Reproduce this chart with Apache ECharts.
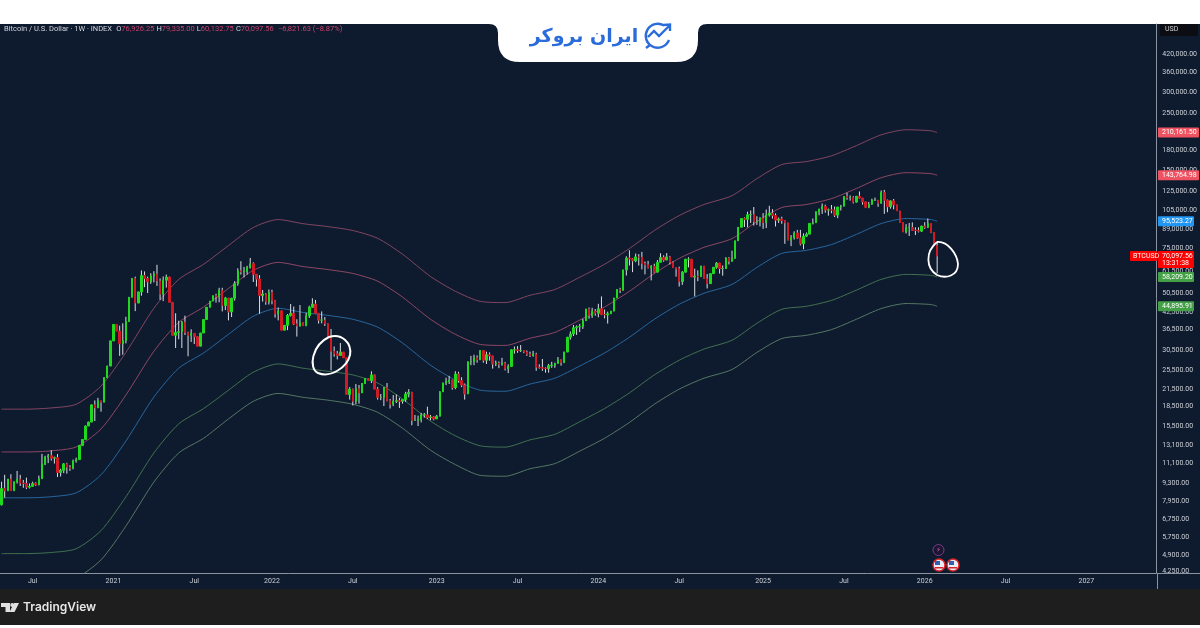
<!DOCTYPE html>
<html>
<head>
<meta charset="utf-8">
<title>Bitcoin / U.S. Dollar</title>
<script src="https://cdn.jsdelivr.net/npm/echarts@6/dist/echarts.min.js"></script>
<style>
  html, body { margin: 0; padding: 0; background: #fff; }
  #chart { width: 1200px; height: 628px; }
</style>
</head>
<body>
<div id="chart"></div>
<script>
// weekly BTC candles, first bar is the week of 2020-04-27
const firstWeek = "2020-04-27";
const weekCount = 372; // includes the empty weeks right of the last bar

const opens = [
  7700,8900,8720,9680,8720,9450,9650,9330,9300,9000,
  9070,9300,9200,9700,11050,11750,11900,11650,11700,10250,
  10450,11070,10750,10650,11350,11500,13030,13750,15500,16050,
  18700,18200,19400,19150,23800,26400,33000,38200,36000,32200,
  33100,39200,48600,57500,46200,51000,59000,57400,55800,58800,
  59800,56200,50000,56600,58200,46500,34700,35600,35800,39000,
  35600,34700,35300,34250,31500,35400,39900,44500,47000,49300,
  48900,51700,45200,48300,42700,48200,54900,61500,60900,61300,
  63300,65500,59700,57200,49400,50100,46700,50800,47300,41900,
  43100,36300,37900,41400,42200,38400,37700,38800,37800,41300,
  44500,45800,42200,39700,39700,38500,34000,30100,29400,29000,
  29900,28400,20500,21500,19300,21600,20800,22600,23600,23200,
  24400,21500,20000,20000,21800,19400,18800,19300,19400,19300,
  19600,20600,20900,16300,16300,16400,17100,17100,16700,16800,
  16500,16900,21000,22700,23000,23300,21800,24600,23200,22300,
  20600,27400,27500,28400,27900,30300,27800,29200,28900,26900,
  27100,26800,27100,25800,26300,30500,30500,30300,30300,29900,
  29300,29000,29300,26100,26000,25900,25800,26500,26600,27000,
  27900,27200,29900,34100,35100,37100,37400,37500,39500,43800,
  41400,43000,42200,43900,41700,41600,42000,43000,48300,52100,
  51700,62000,68900,68400,67200,69600,69400,65700,64900,63100,
  64000,60800,66300,69300,67700,69600,66200,63200,62700,55900,
  60800,68200,68200,58200,58700,58400,64200,57300,54900,60000,
  63500,65900,62800,62800,68900,67000,68700,80300,90600,97900,
  97200,101200,101400,95200,95200,98300,94500,101100,102600,100600,
  96500,97500,96200,94200,80700,82600,86000,82400,78200,83700,
  85200,93700,94300,104000,106500,109000,105700,105700,105500,100900,
  108400,109200,119100,117900,117900,113300,119300,117400,113500,108200,
  111100,115300,115300,112200,123500,115200,108700,114500,110600,104700,
  94500,86800,90400,90400,88200,88100,87500,91500,90500,93600,
  86500,76926.25
];
const highs = [
  9450,10050,9680,10100,9450,10400,10050,9600,9800,9300,
  9450,9400,9980,12100,11900,12100,12500,11800,12080,10600,
  11150,11180,10950,11500,11700,13100,13800,15550,16100,18750,
  19450,19900,19400,23900,26500,33100,38300,38300,37800,38600,
  40900,48800,57700,58400,51100,61700,61200,58400,60200,61300,
  64900,57500,58500,59500,58400,46600,42200,39500,39400,41300,
  35800,36600,35100,34400,35450,40000,44600,47100,49400,50200,
  52900,52900,48800,48300,48400,56100,62900,67000,63700,64300,
  69000,66300,59800,59200,51900,50500,52100,52000,47500,44400,
  43200,38000,41900,45800,44800,40000,45400,38900,42400,45100,
  48200,47500,41600,42900,40800,38600,36700,31400,30200,32400,
  29900,28400,21900,21600,22500,22300,22700,23700,23700,25200,
  24500,21900,20600,21900,22700,19700,20400,20500,19900,19700,
  21000,21500,21000,17100,17000,17400,17400,18400,17100,16900,
  17100,21100,22800,23800,24200,23400,25200,25100,23900,22600,
  27500,28900,29200,29000,30400,30400,30000,29800,28900,27700,
  27500,28400,27400,26800,30600,31400,31500,31800,30400,30300,
  30000,30200,29700,26800,28100,26100,26900,27400,27200,28600,
  28000,30000,34200,35900,38000,37900,38400,40200,43900,44400,
  44300,43800,45900,49000,43600,42800,43100,48400,52200,52900,
  62100,70000,73800,68900,71700,71300,72800,66800,67200,64700,
  65500,67700,71900,70600,72000,70200,66900,63400,63800,61400,
  68400,69400,68300,62700,61800,64300,64300,59800,60100,63600,
  66500,66000,64500,69400,69500,73600,80400,90700,98000,98900,
  104000,105200,108400,99900,99000,102700,106000,109600,106400,102500,
  98800,99500,96500,94300,84500,87400,88500,88500,85800,86500,
  93800,97900,104100,106700,111900,110700,106900,110400,108900,108500,
  110500,119200,123200,120200,119300,119300,124500,117600,113600,113400,
  116700,117900,115400,125600,126200,115900,114900,116400,110700,104800,
  94600,93100,94100,94600,90500,90500,91800,94700,97900,93600,
  86600,79335
];
const lows = [
  7650,8200,8720,8800,8720,9300,9100,8950,8850,8900,
  9050,9100,9150,9750,10950,11150,11400,11100,9850,9900,
  10200,10150,10400,10550,11200,11500,13030,13750,15500,16050,
  16200,18200,17600,19150,23800,26400,33000,36000,28900,29200,
  32300,39200,48600,43000,46200,49300,53200,50500,54800,55500,
  53800,47500,47000,53000,46500,34700,31000,33500,31000,34800,
  28800,32700,32100,31500,31500,35400,39900,44500,47000,46400,
  46500,42900,43400,39600,40800,47200,53900,59500,58000,59500,
  62800,55700,53500,42000,46800,45500,45600,45700,40600,39600,
  36300,36300,36300,41000,38000,34300,37500,37800,37600,40500,
  44400,42000,38500,38600,37700,34000,25400,28700,28000,29300,
  28400,20500,19600,18600,18800,18900,20800,22600,23200,22700,
  21500,19600,19500,18500,19300,18100,18500,19000,18200,18900,
  19200,20000,15600,16200,15500,16000,16700,16500,16300,16300,
  16500,16900,21000,22300,22500,21400,21500,22800,21900,19600,
  20600,26600,26600,27200,27900,27200,26900,27700,25800,26400,
  25900,26500,25400,24800,26300,29500,29700,29900,29600,28900,
  28600,28700,25300,25800,25300,24900,24900,26000,26000,27200,
  26500,27200,29900,33400,34500,34800,35700,36700,39500,40200,
  40500,41300,40700,41500,40300,38500,42000,43000,48300,50500,
  51700,59000,64500,60800,66400,64500,62300,59600,62800,56500,
  60200,60700,66500,66700,68500,65100,63200,58400,53500,54300,
  60600,63400,58200,49000,56100,58400,57300,52600,54900,60000,
  62700,60000,58900,62500,65100,66800,68700,80300,90600,90800,
  90500,94200,92000,92500,91300,89300,89900,99600,97800,91200,
  94100,93400,78200,80700,76600,81200,81600,77100,74500,83100,
  85200,92900,94300,100700,102000,103100,100400,102600,99200,98200,
  105100,109200,115700,114700,111900,112700,116800,110700,107400,107300,
  110600,114400,108600,111600,102000,103500,106900,106200,104700,94500,
  86800,85700,83800,87700,84500,86500,86800,89300,90000,86000,
  76900,60132.75
];
const closes = [
  8900,8720,9680,8720,9450,9650,9330,9300,9000,9070,
  9300,9200,9700,11050,11750,11900,11650,11700,10250,10450,
  11070,10750,10650,11350,11500,13030,13750,15500,16050,18700,
  18200,19400,19150,23800,26400,33000,38200,36000,32200,33100,
  39200,48600,57500,46200,51000,59000,57400,55800,58800,59800,
  56200,50000,56600,58200,46500,34700,35600,35800,39000,35600,
  34700,35300,34250,31500,35400,39900,44500,47000,49300,48900,
  51700,45200,48300,42700,48200,54900,61500,60900,61300,63300,
  65500,59700,57200,49400,50100,46700,50800,47300,41900,43100,
  36300,37900,41400,42200,38400,37700,38800,37800,41300,44500,
  45800,42200,39700,39700,38500,34000,30100,29400,29000,29900,
  28400,20500,21500,19300,21600,20800,22600,23600,23200,24400,
  21500,20000,20000,21800,19400,18800,19300,19400,19300,19600,
  20600,20900,16300,16300,16400,17100,17100,16700,16800,16500,
  16900,21000,22700,23000,23300,21800,24600,23200,22300,20600,
  27400,27500,28400,27900,30300,27800,29200,28900,26900,27100,
  26800,27100,25800,26300,30500,30500,30300,30300,29900,29300,
  29000,29300,26100,26000,25900,25800,26500,26600,27000,27900,
  27200,29900,34100,35100,37100,37400,37500,39500,43800,41400,
  43000,42200,43900,41700,41600,42000,43000,48300,52100,51700,
  62000,68900,68400,67200,69600,69400,65700,64900,63100,64000,
  60800,66300,69300,67700,69600,66200,63200,62700,55900,60800,
  68200,68200,58200,58700,58400,64200,57300,54900,60000,63500,
  65900,62800,62800,68900,67000,68700,80300,90600,97900,97200,
  101200,101400,95200,95200,98300,94500,101100,102600,100600,96500,
  97500,96200,94200,80700,82600,86000,82400,78200,83700,85200,
  93700,94300,104000,106500,109000,105700,105700,105500,100900,108400,
  109200,119100,117900,117900,113300,119300,117400,113500,108200,111100,
  115300,115300,112200,123500,115200,108700,114500,110600,104700,94500,
  86800,90400,90400,88200,88100,87500,91500,90500,93600,86500,
  76900,70097.56
];

// band values read every couple of months, bandWeeks = bar number
const bandWeeks = [0,8,16,24,32,40,49,57,65,73,81,89,97,105,113,121,129,138,146,154,162,170,178,186,194,202,210,218,226,235,243,251,259,267,275,283,291,299,301];
const upperOuter = [18000,18000,18200,18800,22100,29800,44100,57000,65200,77000,90400,97000,93500,91100,88000,82100,71300,58500,51300,46900,46400,49500,52100,58100,65200,75000,88000,100500,110900,119900,139500,158000,162400,170900,187000,205900,215400,213400,210161.5];
const upperInner = [12310,12310,12430,12870,15100,20400,30100,38900,44600,52600,61800,66300,63900,62200,60100,56100,48700,40000,35000,32000,31700,33800,35600,39700,44600,51300,60100,68700,75800,81900,95300,107900,110900,116800,127800,140700,147100,145800,143764.98];
const basis = [8190,8190,8270,8560,10050,13560,20050,25900,29650,35000,41100,44100,42500,41400,40000,37300,32400,26600,23300,21300,21100,22500,23700,26400,29650,34100,40000,45700,50400,54500,63400,71800,73800,77700,85000,93600,97900,97000,95523.27];
const lowerInner = [4990,4990,5040,5210,6120,8260,12200,15800,18100,21300,25000,26900,25900,25200,24400,22700,19700,16200,14200,13000,12850,13700,14400,16100,18100,20800,24400,27800,30700,33200,38600,43700,44900,47300,51800,57000,59600,59100,58209.2];
const lowerOuter = [3850,3850,3890,4020,4720,6370,9420,12200,13900,16500,19300,20700,20000,19500,18800,17500,15200,12500,11000,10000,9920,10600,11100,12400,13900,16000,18800,21500,23700,25600,29800,33700,34700,36500,40000,44000,46000,45600,44895.91];

const priceTicks = [420000,360000,300000,250000,210000,180000,150000,125000,105000,89000,75000,61500,50500,42500,36500,30500,25500,21500,18500,15500,13100,11100,9300,7950,6750,5750,4900,4250];
const timeTickDates = ["2020-07-06","2021-01-04","2021-07-05","2021-12-27","2022-06-27","2023-01-02","2023-07-03","2024-01-01","2024-07-01","2025-01-06","2025-07-07","2026-01-05","2026-07-06","2027-01-04"];
const timeTickLabels = ["Jul","2021","Jul","2022","Jul","2023","Jul","2024","Jul","2025","Jul","2026","Jul","2027"];

// price tags on the right axis
const tagValues = [210161.5,143764.98,95523.27,70097.56,58209.2,44895.91];
const tagTexts = ["210,161.50","143,764.98","95,523.27","70,097.56","58,209.20","44,895.91"];
const countdown = "13:31:38";

const categories = [];
for (let i = 0; i < weekCount; i++) {
  const d = new Date(firstWeek + "T00:00:00Z");
  d.setUTCDate(d.getUTCDate() + i * 7);
  categories.push(d.toISOString().slice(0, 10));
}

const fontName = "Roboto, sans-serif";
const axisGrey = "#8b93a1";
const textGrey = "#cdd1d8";
const tagColors = ["#ef5361", "#ef5361", "#2196f3", "#ff0000", "#43a047", "#43a047"];
const tagWidths = [41, 41, 36, 36, 36, 36];

function bandSeries(name, values, color) {
  return {
    name: name,
    type: "line",
    data: bandWeeks.map((w, i) => [w, values[i]]),
    smooth: 0.25,
    showSymbol: false,
    silent: true,
    z: 2,
    lineStyle: { color: color, width: 0.9 }
  };
}

function renderWick(params, api) {
  const top = api.coord([api.value(0), api.value(1)]);
  const bottom = api.coord([api.value(0), api.value(2)]);
  return {
    type: "line",
    shape: { x1: top[0], y1: top[1], x2: bottom[0], y2: bottom[1] },
    style: { stroke: "#f2f4f7", lineWidth: 0.9 }
  };
}

// tags sit on the axis strip, height comes from the series value
function renderTag(params, api) {
  const i = params.dataIndex;
  const pos = api.coord([api.value(0), api.value(1)]);
  const last = i === 3;
  const h = last ? 17 : 10;
  const top = pos[1] - 5;
  const children = [
    { type: "rect", shape: { x: 1158, y: top, width: tagWidths[i], height: h, r: 1 }, style: { fill: tagColors[i] } },
    { type: "text", style: { x: 1162, y: top + 5, text: tagTexts[i], fill: "#fff", font: "7px " + fontName, verticalAlign: "middle" } }
  ];
  if (last) {
    children.push(
      { type: "text", style: { x: 1162, y: top + 12.5, text: countdown, fill: "#fff", font: "7px " + fontName, verticalAlign: "middle" } },
      { type: "rect", shape: { x: 1130, y: top, width: 27, height: 10, r: 1 }, style: { fill: tagColors[i] } },
      { type: "text", style: { x: 1133, y: top + 5, text: "BTCUSD", fill: "#fff", font: "7px " + fontName, verticalAlign: "middle" } }
    );
  }
  return { type: "group", children: children };
}

// logo tab, hand drawn circles and footer mark
const decorPaths = [
  { d: "M489 24 Q498 24 498 33 L498 40 Q498 62 520 62 L676 62 Q698 62 698 40 L698 33 Q698 24 707 24 Z", fill: "#ffffff" },
  { d: "M664 25.5 A12 12 0 1 0 669 40 M648 37 L654 31 L659 36 L669 26 M663 25 L670 24.5 L670 31 M650 45 L646 48", stroke: "#2b6cdb", width: 2.4 },
  { d: "M329 337 C342 333 352 343 350 355 C347 368 330 378 318 373 C308 368 312 345 329 337", stroke: "#ffffff", width: 2 },
  { d: "M937 242 C948 241 957 254 958 264 C958 276 946 279 937 275 C926 268 925 252 937 242", stroke: "#ffffff", width: 1.8 },
  { d: "M1 603 H10 V612 H5.5 V607 H1 Z M19 603 L14.5 612 H9.5 L14 603 Z", fill: "#e0e0e0" }
];

function renderDecor() {
  const children = decorPaths.map(p => ({
    type: "path",
    shape: { pathData: p.d },
    style: { fill: p.fill || "none", stroke: p.stroke || "none", lineWidth: p.width || 0 }
  }));
  children.push({
    type: "text",
    style: { x: 584, y: 37, text: "ایران بروکر", fill: "#2b6cdb", font: "bold 19px 'DejaVu Sans', sans-serif", align: "center", verticalAlign: "middle" }
  });
  return { type: "group", children: children };
}

const chart = echarts.init(document.getElementById("chart"), null, { renderer: "canvas" });

const option = {
  animation: false,
  backgroundColor: "#ffffff",
  title: {
    left: 4,
    top: 25,
    padding: 0,
    text: "{t|Bitcoin / U.S. Dollar · 1W · INDEX}  {t|O}{v|76,926.25} {t|H}{v|79,335.00} {t|L}{v|60,132.75} {t|C}{v|70,097.56}  {v|−6,821.63 (−8.87%)}",
    textStyle: {
      fontSize: 7.5,
      fontWeight: "normal",
      rich: {
        t: { fontFamily: fontName, fontSize: 7.5, fontWeight: "normal", color: "#d1d4dc" },
        v: { fontFamily: fontName, fontSize: 7.5, fontWeight: "normal", color: "#c9426c" }
      }
    }
  },
  grid: { left: 0, right: 43, top: 24, bottom: 55, containLabel: false },
  xAxis: {
    type: "category",
    data: categories,
    boundaryGap: true,
    axisLine: { lineStyle: { color: axisGrey, width: 1 } },
    axisTick: { show: false },
    splitLine: { show: false },
    axisLabel: {
      color: textGrey,
      fontFamily: fontName,
      fontSize: 7,
      margin: 5,
      interval: (index, value) => timeTickDates.includes(value),
      formatter: value => timeTickLabels[timeTickDates.indexOf(value)]
    }
  },
  yAxis: {
    type: "log",
    logBase: 10,
    position: "right",
    min: 4200,
    max: 551000,
    axisLine: { show: true, lineStyle: { color: axisGrey, width: 1 } },
    axisTick: { show: false },
    splitLine: { show: false },
    minorTick: { show: false },
    minorSplitLine: { show: false },
    axisLabel: {
      color: textGrey,
      fontFamily: fontName,
      fontSize: 7,
      margin: 6,
      align: "left",
      showMinLabel: true,
      showMaxLabel: true,
      customValues: priceTicks,
      formatter: value => Math.round(value).toLocaleString("en-US", { minimumFractionDigits: 2 })
    }
  },
  series: [
    bandSeries("upper outer", upperOuter, "#8f4a66"),
    bandSeries("upper inner", upperInner, "#9c4c6b"),
    bandSeries("basis", basis, "#2a6ea8"),
    bandSeries("lower inner", lowerInner, "#467a54"),
    bandSeries("lower outer", lowerOuter, "#5d826a"),
    {
      name: "wicks",
      type: "custom",
      renderItem: renderWick,
      data: opens.map((o, i) => [i, highs[i], lows[i]]),
      encode: { x: 0, y: [1, 2] },
      silent: true,
      z: 3
    },
    {
      name: "BTCUSD",
      type: "candlestick",
      data: opens.map((o, i) => [o, closes[i], Math.min(o, closes[i]), Math.max(o, closes[i])]),
      barWidth: 2,
      silent: true,
      z: 4,
      itemStyle: {
        color: "#1ed91e",
        color0: "#d01a26",
        borderColor: "#1ed91e",
        borderColor0: "#d01a26",
        borderWidth: 1
      }
    },
    {
      name: "tags",
      type: "custom",
      renderItem: renderTag,
      clip: false,
      data: tagValues.map(v => [opens.length - 1, v]),
      encode: { x: 0, y: 1 },
      silent: true,
      z: 20
    },
    {
      name: "decor",
      type: "custom",
      renderItem: renderDecor,
      clip: false,
      data: [[0, 10000]],
      encode: { x: 0, y: 1 },
      silent: true,
      z: 25
    }
  ],
  graphic: { elements: [
    // panels
    { type: "rect", z: -10, silent: true, shape: { x: 0, y: 24, width: 1200, height: 565 }, style: { fill: "#0e1b2e" } },
    { type: "rect", z: -10, silent: true, shape: { x: 0, y: 589, width: 1200, height: 36 }, style: { fill: "#1e1e1e" } },
    { type: "line", z: 5, silent: true, shape: { x1: 1157.5, y1: 573, x2: 1157.5, y2: 589 }, style: { stroke: axisGrey, lineWidth: 1 } },
    { type: "line", z: 5, silent: true, shape: { x1: 1157, y1: 573.5, x2: 1200, y2: 573.5 }, style: { stroke: axisGrey, lineWidth: 1 } },
    // currency box
    { type: "rect", z: 5, silent: true, shape: { x: 1160, y: 24, width: 38, height: 12, r: 1 }, style: { fill: "#0b0d12" } },
    { type: "text", z: 6, silent: true, x: 1165, y: 26, style: { text: "USD", fill: textGrey, font: "7px " + fontName } },
    // event marks above the time axis
    { type: "circle", z: 25, silent: true, shape: { cx: 938.5, cy: 550, r: 5.5 }, style: { stroke: "#7b3a86", fill: "#1c1533", lineWidth: 1 } },
    { type: "text", z: 26, silent: true, x: 938.5, y: 550, style: { text: "⚡", fill: "#c05a9a", font: "7px 'DejaVu Sans'", align: "center", verticalAlign: "middle" } },
    { type: "circle", z: 25, silent: true, shape: { cx: 939, cy: 565, r: 6 }, style: { stroke: "#d8232a", fill: "#e8ecf4", lineWidth: 1.5 } },
    { type: "circle", z: 25, silent: true, shape: { cx: 953, cy: 565, r: 6 }, style: { stroke: "#d8232a", fill: "#e8ecf4", lineWidth: 1.5 } },
    { type: "rect", z: 26, silent: true, shape: { x: 935, y: 561, width: 5, height: 4 }, style: { fill: "#2f5fb0" } },
    { type: "rect", z: 26, silent: true, shape: { x: 949, y: 561, width: 5, height: 4 }, style: { fill: "#2f5fb0" } },
    { type: "rect", z: 26, silent: true, shape: { x: 935, y: 567, width: 8, height: 1.5 }, style: { fill: "#d8232a" } },
    { type: "rect", z: 26, silent: true, shape: { x: 949, y: 567, width: 8, height: 1.5 }, style: { fill: "#d8232a" } },
    // TradingView footer
    { type: "circle", z: 5, silent: true, shape: { cx: 12.2, cy: 605, r: 1.9 }, style: { fill: "#e0e0e0" } },
    { type: "text", z: 5, silent: true, x: 23, y: 607.5, style: { text: "TradingView", fill: "#e6e6e6", font: "600 12px Inter, Roboto, sans-serif", verticalAlign: "middle" } }
  ] }
};

chart.setOption(option);
window.addEventListener("resize", () => {
  chart.resize();
});
</script>
</body>
</html>
